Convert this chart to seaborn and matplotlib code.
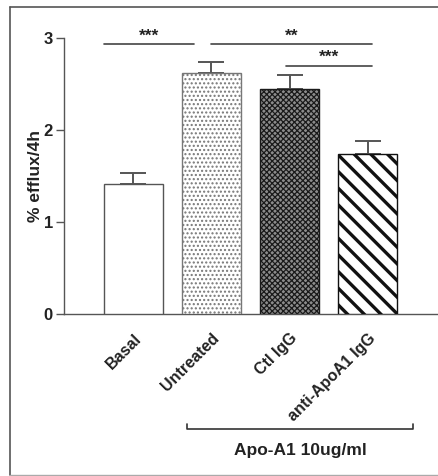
import matplotlib
matplotlib.use("Agg")
import matplotlib.pyplot as plt
import matplotlib.transforms as mtransforms
from matplotlib.lines import Line2D
import seaborn as sns
import pandas as pd

# Cholesterol efflux after 4 h, mean and SEM per condition
categories = ["Basal", "Untreated", "Ctl IgG", "anti-ApoA1 IgG"]
means = [1.41, 2.62, 2.45, 1.74]
sem = [0.12, 0.12, 0.15, 0.14]

# significance bars: x extent (data units), height and label
sig_x0 = [-0.38, 1.0, 1.95]
sig_x1 = [0.77, 3.06, 3.06]
sig_height = [2.93, 2.93, 2.70]
sig_label = ["***", "**", "***"]

group_label = "Apo-A1 10ug/ml"
y_ticks = [0, 1, 2, 3]

sns.set_theme(style="white")
plt.rcParams["font.family"] = ["Liberation Sans", "DejaVu Sans"]
plt.rcParams["font.weight"] = "bold"

fig = plt.figure(figsize=(4.38, 4.76), dpi=100)
ax = fig.add_axes([64 / 438, 1 - 314 / 476, 373 / 438, 276 / 476])

df = pd.DataFrame({"condition": categories, "efflux": means})
sns.barplot(data=df, x="condition", y="efflux", ax=ax, color="white",
            width=0.76, edgecolor="#555555", linewidth=1.0, errorbar=None,
            zorder=3)

hatches = [None, "....", "xxxxxx", "\\\\"]
faces = ["white", "white", "#8c8c8c", "white"]
hatch_cols = ["#555555", "#777777", "#1a1a1a", "#111111"]
hatch_lw = [1.0, 1.0, 0.9, 2.4]
for p, h, fc, hc, lw in zip(ax.patches, hatches, faces, hatch_cols, hatch_lw):
    p.set_facecolor(fc)
    if h:
        p.set_hatch(h)
        p.set_edgecolor(hc)
        if hasattr(p, "set_hatch_linewidth"):
            p.set_hatch_linewidth(lw)

# upward error bars only
x_pos = list(range(len(categories)))
ax.errorbar(x_pos, means, yerr=[[0] * len(sem), sem], fmt="none",
            ecolor="#555555", elinewidth=1.4, capsize=9.7, capthick=1.4,
            zorder=2)

for xa, xb, h, lab in zip(sig_x0, sig_x1, sig_height, sig_label):
    ax.plot([xa, xb], [h, h], color="#444444", lw=1.2, clip_on=False)
    ax.text((xa + xb) / 2, h + 0.01, lab, ha="center", va="bottom",
            fontsize=12.5, fontweight="bold", color="#222222")

ax.set_xlim(-0.89, 3.89)
ax.set_ylim(0, 3)
ax.set_yticks(y_ticks)
ax.set_yticklabels([str(t) for t in y_ticks], fontsize=12, fontweight="bold",
                   color="#222222")
ax.set_xticks(x_pos)
ax.set_xticklabels(categories, rotation=45, ha="right",
                   rotation_mode="anchor", fontsize=11.5, fontweight="bold",
                   color="#222222")
ax.tick_params(axis="y", left=True, length=6, width=1, color="#555555",
               pad=2)
ax.tick_params(axis="x", bottom=False, pad=6)
ax.set_xlabel("")
ax.set_ylabel("% efflux/4h", fontsize=12.5, fontweight="bold",
              color="#222222")
ax.yaxis.set_label_coords(-0.056, 0.5)
for s in ["top", "right"]:
    ax.spines[s].set_visible(False)
for s in ["left", "bottom"]:
    ax.spines[s].set_color("#555555")
    ax.spines[s].set_linewidth(1.0)

# bracket grouping the Apo-A1 treated conditions
tr = mtransforms.blended_transform_factory(ax.transData, ax.transAxes)
bx0, bx1 = 0.686, 3.583
ax.plot([bx0, bx0, bx1, bx1], [-0.399, -0.417, -0.417, -0.399],
        color="#333333", lw=1.2, transform=tr, clip_on=False)
ax.text((bx0 + bx1) / 2, -0.493, group_label, transform=tr, ha="center",
        va="center", fontsize=12.5, fontweight="bold", color="#222222")

# outer frame
fcol = "#555555"
fig.add_artist(Line2D([10 / 438, 10 / 438], [1 / 476, 469 / 476],
                      color=fcol, lw=1.2, transform=fig.transFigure))
fig.add_artist(Line2D([10 / 438, 1.0], [469 / 476, 469 / 476],
                      color=fcol, lw=1.2, transform=fig.transFigure))
fig.add_artist(Line2D([10 / 438, 1.0], [1 / 476, 1 / 476],
                      color="#aaaaaa", lw=1.0, transform=fig.transFigure))

fig.savefig("out.png", dpi=100)
